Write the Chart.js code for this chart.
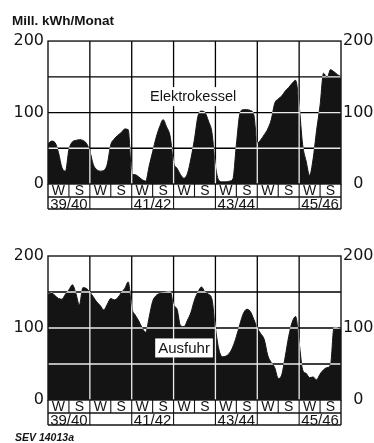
<!DOCTYPE html>
<html>
<head>
<meta charset="utf-8">
<script src="https://cdn.jsdelivr.net/npm/chart.js@4.4.1/dist/chart.umd.min.js"></script>
<style>
  html, body { margin: 0; padding: 0; background: #fff; }
  body { width: 374px; height: 443px; position: relative; overflow: hidden; }
  canvas { position: absolute; left: 0; }
  #topChart { top: 0; }
  #bottomChart { top: 220px; }
</style>
</head>
<body>
<canvas id="topChart" width="374" height="220"></canvas>
<canvas id="bottomChart" width="374" height="223"></canvas>
<script>
// monthly values, Oct 1939 .. Sep 1946 (85 month boundaries)
const elektro = [
  56, 60, 58, 44, 23, 18, 48, 59, 61, 62, 61, 57,
  46, 27, 20, 18, 19, 28, 55, 63, 68, 72, 77, 76,
  15, 13, 10, 6, 4, 25, 45, 65, 80, 90, 80, 67,
  30, 22, 13, 8, 15, 36, 63, 95, 102, 100, 88, 72,
  25, 5, 3, 3, 4, 7, 55, 98, 104, 104, 103, 97,
  57, 62, 69, 77, 90, 113, 119, 123, 130, 135, 141, 145,
  110, 55, 32, 12, 35, 75, 110, 155, 148, 160, 157, 153,
  150
];
const ausfuhr = [
  146, 149, 145, 141, 140, 147, 153, 160, 148, 132, 156, 155,
  150, 143, 136, 131, 125, 133, 141, 139, 142, 149, 155, 164,
  128, 118, 110, 100, 94, 115, 137, 145, 148, 149, 150, 151,
  132, 126, 103, 102, 111, 122, 139, 150, 157, 150, 147, 140,
  100, 70, 60, 61, 65, 74, 88, 105, 120, 126, 123, 112,
  100, 92, 84, 62, 52, 45, 30, 35, 60, 88, 108, 116,
  80, 42, 37, 31, 32, 28, 36, 42, 45, 49, 101, 100,
  98
];
const halfLabels = ['W', 'S', 'W', 'S', 'W', 'S', 'W', 'S', 'W', 'S', 'W', 'S', 'W', 'S'];
const yearLabels = ['39/40', '41/42', '43/44', '45/46'];
const yTickLabels = [0, 100, 200];

const INK = '#141414';
const MONTHS = 84;

Chart.defaults.font.family = "'Liberation Sans', Arial, sans-serif";
Chart.defaults.color = INK;

// white page, inverted grid over the fill, frame, W/S band and series label
const panelPlugin = {
  id: 'panel',
  beforeDraw(chart) {
    const ctx = chart.ctx;
    ctx.save();
    ctx.fillStyle = '#fff';
    ctx.fillRect(0, 0, chart.width, chart.height);
    ctx.restore();
  },
  afterDatasetsDraw(chart, args, opts) {
    const { ctx, chartArea: a, scales } = chart;
    const x = scales.x, y = scales.y, x2 = scales.x2;

    ctx.save();
    ctx.globalCompositeOperation = 'difference';
    ctx.strokeStyle = '#fff';
    ctx.lineWidth = 1.3;
    ctx.beginPath();
    y.ticks.forEach(t => {
      if (t.value <= y.min || t.value >= y.max) return;
      const py = y.getPixelForValue(t.value);
      ctx.moveTo(a.left, py);
      ctx.lineTo(a.right, py);
    });
    for (let m = 12; m < MONTHS; m += 12) {
      const px = x.getPixelForValue(m);
      ctx.moveTo(px, a.top);
      ctx.lineTo(px, a.bottom);
    }
    ctx.stroke();
    ctx.restore();

    ctx.save();
    ctx.strokeStyle = INK;
    ctx.lineWidth = 1.4;
    ctx.strokeRect(a.left, a.top, a.right - a.left, a.bottom - a.top);
    ctx.beginPath();
    ctx.moveTo(a.left, a.bottom); ctx.lineTo(a.left, x2.bottom);
    ctx.moveTo(a.right, a.bottom); ctx.lineTo(a.right, x2.bottom);
    ctx.moveTo(a.left, x.bottom); ctx.lineTo(a.right, x.bottom);
    ctx.moveTo(a.left, x2.bottom); ctx.lineTo(a.right, x2.bottom);
    ctx.stroke();
    ctx.lineWidth = 1.1;
    ctx.beginPath();
    for (let m = 6; m < MONTHS; m += 6) {
      const px = x.getPixelForValue(m);
      ctx.moveTo(px, a.bottom);
      ctx.lineTo(px, m % 12 === 0 ? x2.bottom : x.bottom);
    }
    ctx.stroke();

    if (opts.text) {
      ctx.font = opts.font;
      const w = ctx.measureText(opts.text).width;
      const cx = x.getPixelForValue(opts.x);
      const cy = y.getPixelForValue(opts.y);
      ctx.fillStyle = '#fff';
      ctx.fillRect(cx - w / 2 - 3, cy - 9, w + 6, 19);
      ctx.fillStyle = INK;
      ctx.textAlign = 'center';
      ctx.textBaseline = 'middle';
      ctx.fillText(opts.text, cx, cy + 1);
    }
    ctx.restore();
  }
};

function yAxis(position, width, padding, align) {
  return {
    type: 'linear',
    position: position,
    min: 0,
    max: 200,
    grid: { display: false, drawTicks: false },
    border: { display: false },
    ticks: {
      stepSize: 50,
      padding: padding,
      crossAlign: align,
      color: INK,
      font: { family: "'DejaVu Sans', sans-serif", size: 16 },
      callback: v => yTickLabels.includes(v) ? String(v) : ''
    },
    afterFit: s => { s.width = width; }
  };
}

function buildOptions(leftPad, extra) {
  return {
    responsive: false,
    animation: false,
    events: [],
    layout: { padding: Object.assign({ left: leftPad, right: 0 }, extra.padding) },
    scales: {
      x: {
        type: 'linear',
        min: 0,
        max: MONTHS,
        position: 'bottom',
        weight: 0,
        grid: { display: false, drawTicks: false },
        border: { display: false },
        afterBuildTicks: s => { s.ticks = halfLabels.map((_, i) => ({ value: i * 6 + 3 })); },
        ticks: {
          autoSkip: false, maxRotation: 0, padding: 0, color: INK,
          font: { size: 14, lineHeight: 1 },
          callback: (v, i) => halfLabels[i]
        },
        afterFit: s => { s.height = 13; }
      },
      x2: {
        type: 'linear',
        min: 0,
        max: MONTHS,
        position: 'bottom',
        weight: 1,
        grid: { display: false, drawTicks: false },
        border: { display: false },
        afterBuildTicks: s => { s.ticks = yearLabels.map((_, i) => ({ value: i * 24 + 6 })); },
        ticks: {
          autoSkip: false, maxRotation: 0, padding: 0, color: INK,
          font: { size: 15, lineHeight: 1 },
          callback: (v, i) => yearLabels[i]
        },
        afterFit: s => { s.height = 12; }
      },
      y: yAxis('left', 48 - leftPad, 4, 'near'),
      y2: yAxis('right', 33, 2, 'center')
    },
    plugins: {
      legend: { display: false },
      tooltip: { enabled: false },
      title: extra.title,
      panel: extra.label
    }
  };
}

function areaDataset(values) {
  return {
    data: values.map((v, i) => ({ x: i, y: v })),
    fill: 'origin',
    backgroundColor: INK,
    borderColor: INK,
    borderWidth: 1,
    pointRadius: 0,
    cubicInterpolationMode: 'monotone',
    xAxisID: 'x',
    yAxisID: 'y'
  };
}

new Chart(document.getElementById('topChart'), {
  type: 'line',
  data: { datasets: [areaDataset(elektro)] },
  options: buildOptions(12, {
    padding: { top: 0, bottom: 11 },
    title: {
      display: true, text: 'Mill. kWh/Monat', align: 'start', color: INK,
      font: { size: 13.5, weight: 'bold', lineHeight: 1.1 },
      padding: { top: 14, bottom: 12.2 }
    },
    label: { text: 'Elektrokessel', x: 41.6, y: 123, font: "14.5px 'Liberation Sans', Arial, sans-serif" }
  }),
  plugins: [panelPlugin]
});

new Chart(document.getElementById('bottomChart'), {
  type: 'line',
  data: { datasets: [areaDataset(ausfuhr)] },
  options: buildOptions(15, {
    padding: { top: 36, bottom: 0 },
    title: {
      display: true, text: 'SEV 14013a', align: 'start', position: 'bottom', color: INK,
      font: { size: 10.5, style: 'italic', lineHeight: 1 },
      padding: { top: 7.5, bottom: 0 }
    },
    label: { text: 'Ausfuhr', x: 39, y: 73, font: "15px 'Liberation Sans', Arial, sans-serif" }
  }),
  plugins: [panelPlugin]
});
</script>
</body>
</html>
